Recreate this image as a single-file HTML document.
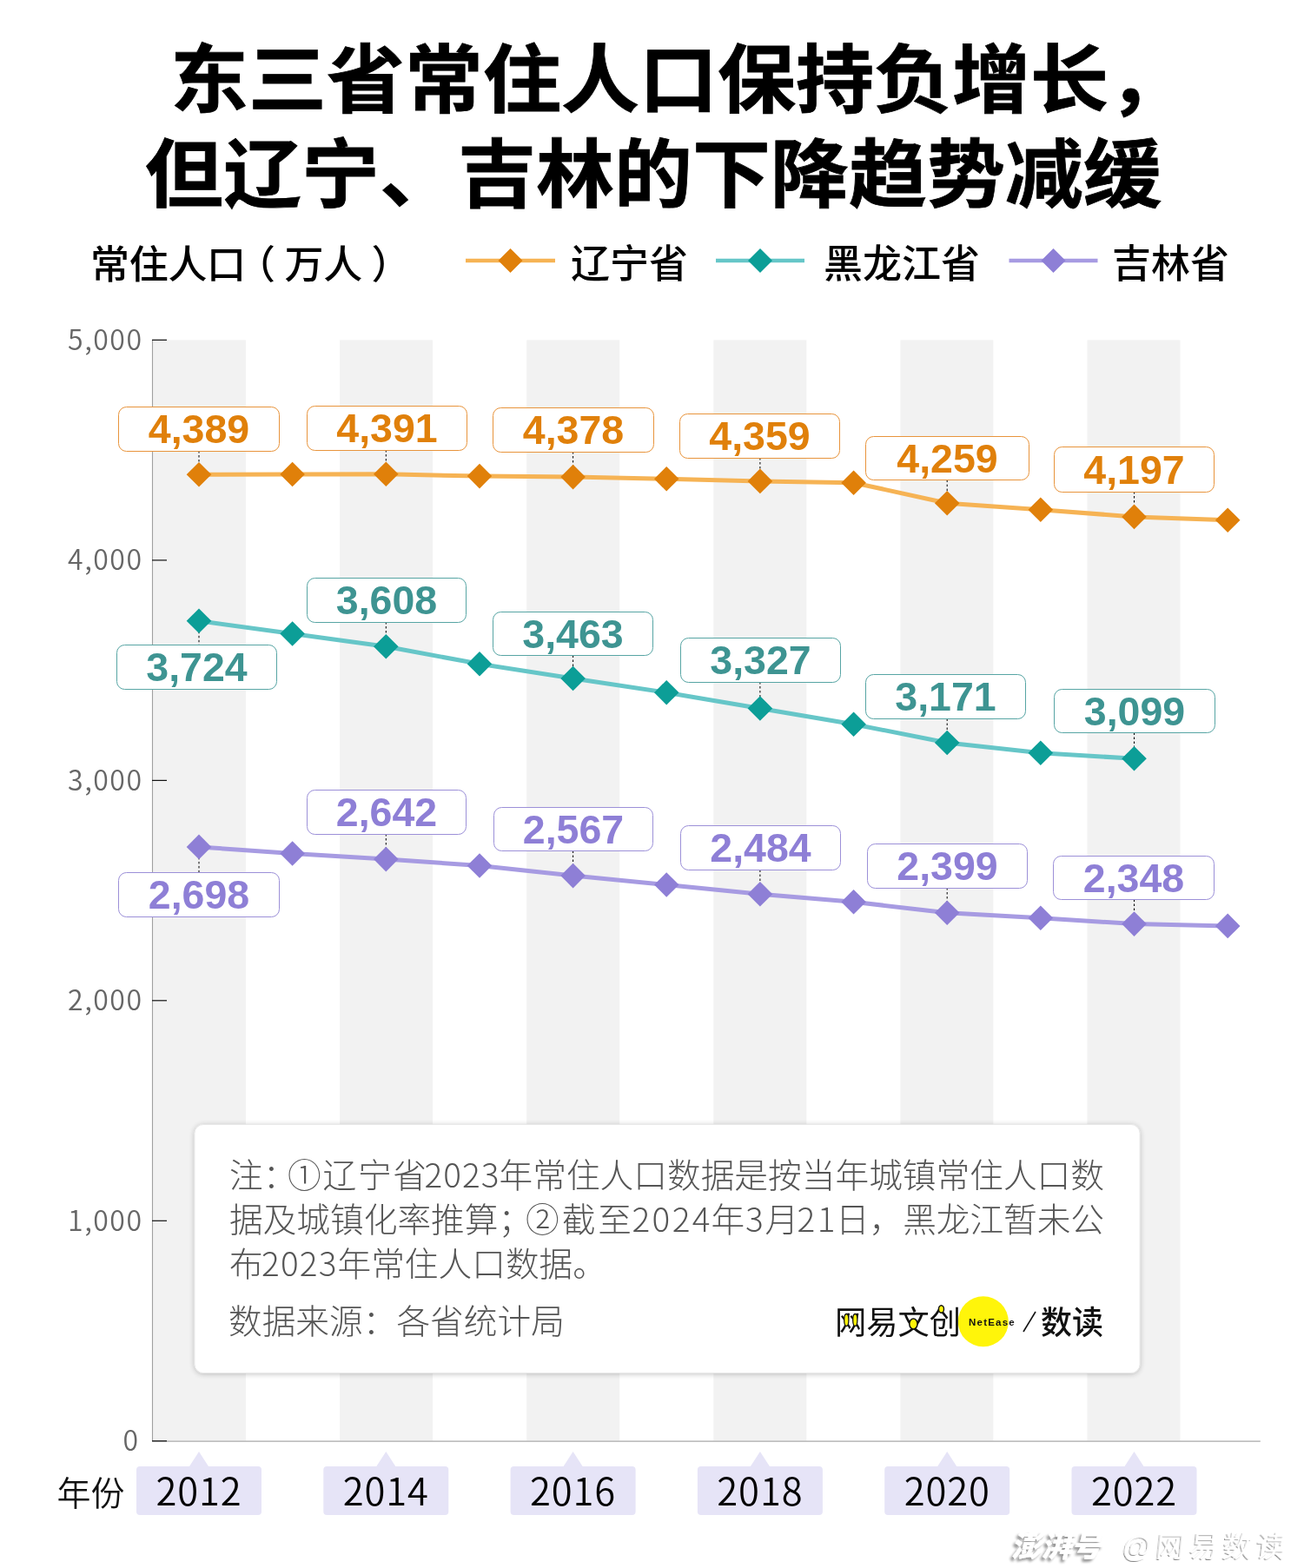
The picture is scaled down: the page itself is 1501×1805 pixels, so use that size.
<!DOCTYPE html>
<html lang="zh-CN"><head><meta charset="utf-8"><title>东三省常住人口保持负增长</title>
<style>
html,body{margin:0;padding:0;background:#fff;}
body{width:1501px;height:1805px;overflow:hidden;position:relative;font-family:"Liberation Sans","Noto Sans CJK SC",sans-serif;}
svg{position:absolute;left:0;top:0;display:block;}
text{font-family:"Liberation Sans","Noto Sans CJK SC",sans-serif;}
.title{font-weight:700;stroke:#000;stroke-width:0.8px;font-size:90px;fill:#000;font-family:"Liberation Sans","Noto Sans CJK SC",sans-serif;}
.lg{font-size:45px;fill:#000;font-weight:500;font-family:"Liberation Sans","Noto Sans CJK SC",sans-serif;}
.yl{font-size:32px;fill:#666;font-weight:350;letter-spacing:1.5px;font-family:"Noto Sans CJK SC","Liberation Sans",sans-serif;}
.num{font-size:46.5px;font-weight:700;letter-spacing:0px;}
.yr{font-size:43.5px;font-weight:350;letter-spacing:0.9px;fill:#000;font-family:"Noto Sans CJK SC","Liberation Sans",sans-serif;}
.note{font-size:38.7px;fill:#555;font-weight:300;font-family:"Noto Sans CJK SC","Liberation Sans",sans-serif;}
</style></head><body>
<svg width="1501" height="1805" viewBox="0 0 1501 1805">
<defs>
<filter id="sh" x="-5%" y="-10%" width="110%" height="120%"><feGaussianBlur in="SourceAlpha" stdDeviation="3"/><feOffset dx="0" dy="0.5"/><feComponentTransfer><feFuncA type="linear" slope="0.24"/></feComponentTransfer><feMerge><feMergeNode/><feMergeNode in="SourceGraphic"/></feMerge></filter>
<filter id="wm" x="-10%" y="-30%" width="120%" height="160%"><feGaussianBlur in="SourceAlpha" stdDeviation="1.8"/><feOffset dx="-3" dy="2.5"/><feComponentTransfer><feFuncA type="linear" slope="0.42"/></feComponentTransfer><feMerge><feMergeNode/><feMergeNode in="SourceGraphic"/></feMerge></filter>
<filter id="wm2" x="-10%" y="-30%" width="120%" height="160%"><feGaussianBlur in="SourceAlpha" stdDeviation="0.6"/><feOffset dx="-1" dy="1"/><feComponentTransfer><feFuncA type="linear" slope="0.5"/></feComponentTransfer><feMerge><feMergeNode/><feMergeNode in="SourceGraphic"/></feMerge></filter>
</defs>
<rect width="1501" height="1805" fill="#fff"/>

<text class="title" transform="translate(196,122.8) scale(1,0.955)" x="0" y="0" textLength="1170" lengthAdjust="spacing">东三省常住人口保持负增长，</text>
<text class="title" transform="translate(167,231.5) scale(1,0.955)" x="0" y="0" textLength="1170" lengthAdjust="spacing">但辽宁、吉林的下降趋势减缓</text>
<text class="lg" x="104 148.7 193.4 238.1 272 327.5 372.2 427.5" y="321">常住人口（万人）</text>
<line x1="536" y1="300" x2="639" y2="300" stroke="#F6B354" stroke-width="4.6"/>
<path d="M573.5 300 L587.5 286 L601.5 300 L587.5 314Z" fill="#E0800A"/>
<text class="lg" x="657" y="320">辽宁省</text>
<line x1="824" y1="300" x2="926" y2="300" stroke="#66C6C8" stroke-width="4.6"/>
<path d="M861.0 300 L875.0 286 L889.0 300 L875.0 314Z" fill="#0C9E97"/>
<text class="lg" x="948" y="320">黑龙江省</text>
<line x1="1161.5" y1="300" x2="1263.5" y2="300" stroke="#A79BE2" stroke-width="4.6"/>
<path d="M1198.5 300 L1212.5 286 L1226.5 300 L1212.5 314Z" fill="#8E7FD6"/>
<text class="lg" x="1280" y="320">吉林省</text>
<rect x="176.0" y="391.5" width="107" height="1267" fill="#F2F2F2"/>
<rect x="391.1" y="391.5" width="107" height="1267" fill="#F2F2F2"/>
<rect x="606.2" y="391.5" width="107" height="1267" fill="#F2F2F2"/>
<rect x="821.3" y="391.5" width="107" height="1267" fill="#F2F2F2"/>
<rect x="1036.4" y="391.5" width="107" height="1267" fill="#F2F2F2"/>
<rect x="1251.5" y="391.5" width="107" height="1267" fill="#F2F2F2"/>
<line x1="175.5" y1="391" x2="175.5" y2="1659" stroke="#a0a0a0" stroke-width="1.1"/>
<line x1="175" y1="1659.1" x2="1450.8" y2="1659.1" stroke="#a8a8a8" stroke-width="1.2"/>
<line x1="175" y1="1658.8" x2="192" y2="1658.8" stroke="#111" stroke-width="1.2"/>
<text class="yl" x="160.5" y="1670.0" text-anchor="end">0</text>
<line x1="175" y1="1405.3" x2="192" y2="1405.3" stroke="#111" stroke-width="1.2"/>
<text class="yl" x="164.5" y="1416.5" text-anchor="end">1,000</text>
<line x1="175" y1="1151.8" x2="192" y2="1151.8" stroke="#111" stroke-width="1.2"/>
<text class="yl" x="164.5" y="1163.0" text-anchor="end">2,000</text>
<line x1="175" y1="898.4" x2="192" y2="898.4" stroke="#111" stroke-width="1.2"/>
<text class="yl" x="164.5" y="909.6" text-anchor="end">3,000</text>
<line x1="175" y1="644.9" x2="192" y2="644.9" stroke="#111" stroke-width="1.2"/>
<text class="yl" x="164.5" y="656.1" text-anchor="end">4,000</text>
<line x1="175" y1="391.4" x2="192" y2="391.4" stroke="#111" stroke-width="1.2"/>
<text class="yl" x="164.5" y="402.6" text-anchor="end">5,000</text>
<rect x="224" y="1294.5" width="1088" height="286" rx="10" fill="#fff" stroke="#e6e6e6" stroke-width="0.8" filter="url(#sh)"/>
<polyline points="229.0,546.3 336.6,546.0 444.3,545.8 552.0,548.1 659.6,549.1 767.2,551.3 874.9,553.9 982.6,555.7 1090.2,579.2 1197.8,586.8 1305.5,594.9 1413.2,598.7" fill="none" stroke="#F6B354" stroke-width="5" stroke-linejoin="round"/>
<polyline points="229.0,714.8 336.6,729.5 444.3,744.2 552.0,764.3 659.6,781.0 767.2,797.2 874.9,815.5 982.6,833.7 1090.2,855.0 1197.8,866.7 1305.5,873.3" fill="none" stroke="#66C6C8" stroke-width="5" stroke-linejoin="round"/>
<polyline points="229.0,974.9 336.6,982.5 444.3,989.1 552.0,996.5 659.6,1008.1 767.2,1018.5 874.9,1029.2 982.6,1038.3 1090.2,1050.7 1197.8,1056.8 1305.5,1063.6 1413.2,1065.9" fill="none" stroke="#A79BE2" stroke-width="5" stroke-linejoin="round"/>
<line x1="229.0" y1="519" x2="229.0" y2="534.3" stroke="#000" stroke-width="1" stroke-dasharray="2.5 2.5"/>
<line x1="444.3" y1="518" x2="444.3" y2="533.8" stroke="#000" stroke-width="1" stroke-dasharray="2.5 2.5"/>
<line x1="659.6" y1="520" x2="659.6" y2="537.1" stroke="#000" stroke-width="1" stroke-dasharray="2.5 2.5"/>
<line x1="874.9" y1="527" x2="874.9" y2="541.9" stroke="#000" stroke-width="1" stroke-dasharray="2.5 2.5"/>
<line x1="1090.2" y1="552.6" x2="1090.2" y2="567.2" stroke="#000" stroke-width="1" stroke-dasharray="2.5 2.5"/>
<line x1="1305.5" y1="566" x2="1305.5" y2="582.9" stroke="#000" stroke-width="1" stroke-dasharray="2.5 2.5"/>
<line x1="229.0" y1="726.8" x2="229.0" y2="742.5" stroke="#000" stroke-width="1" stroke-dasharray="2.5 2.5"/>
<line x1="444.3" y1="716" x2="444.3" y2="732.2" stroke="#000" stroke-width="1" stroke-dasharray="2.5 2.5"/>
<line x1="659.6" y1="754.5" x2="659.6" y2="769.0" stroke="#000" stroke-width="1" stroke-dasharray="2.5 2.5"/>
<line x1="874.9" y1="785" x2="874.9" y2="803.5" stroke="#000" stroke-width="1" stroke-dasharray="2.5 2.5"/>
<line x1="1090.2" y1="827.5" x2="1090.2" y2="843.0" stroke="#000" stroke-width="1" stroke-dasharray="2.5 2.5"/>
<line x1="1305.5" y1="843.5" x2="1305.5" y2="861.3" stroke="#000" stroke-width="1" stroke-dasharray="2.5 2.5"/>
<line x1="229.0" y1="986.9" x2="229.0" y2="1004.5" stroke="#000" stroke-width="1" stroke-dasharray="2.5 2.5"/>
<line x1="444.3" y1="960" x2="444.3" y2="977.1" stroke="#000" stroke-width="1" stroke-dasharray="2.5 2.5"/>
<line x1="659.6" y1="979.5" x2="659.6" y2="996.1" stroke="#000" stroke-width="1" stroke-dasharray="2.5 2.5"/>
<line x1="874.9" y1="1001.5" x2="874.9" y2="1017.2" stroke="#000" stroke-width="1" stroke-dasharray="2.5 2.5"/>
<line x1="1090.2" y1="1022" x2="1090.2" y2="1038.7" stroke="#000" stroke-width="1" stroke-dasharray="2.5 2.5"/>
<line x1="1305.5" y1="1035.5" x2="1305.5" y2="1051.6" stroke="#000" stroke-width="1" stroke-dasharray="2.5 2.5"/>
<path d="M214.7 546.3 L229.0 532.0 L243.3 546.3 L229.0 560.6Z" fill="#E0800A"/>
<path d="M322.3 546.0 L336.6 531.7 L350.9 546.0 L336.6 560.3Z" fill="#E0800A"/>
<path d="M430.0 545.8 L444.3 531.5 L458.6 545.8 L444.3 560.1Z" fill="#E0800A"/>
<path d="M537.7 548.1 L552.0 533.8 L566.2 548.1 L552.0 562.4Z" fill="#E0800A"/>
<path d="M645.3 549.1 L659.6 534.8 L673.9 549.1 L659.6 563.4Z" fill="#E0800A"/>
<path d="M753.0 551.3 L767.2 537.0 L781.5 551.3 L767.2 565.6Z" fill="#E0800A"/>
<path d="M860.6 553.9 L874.9 539.6 L889.2 553.9 L874.9 568.2Z" fill="#E0800A"/>
<path d="M968.3 555.7 L982.6 541.4 L996.9 555.7 L982.6 570.0Z" fill="#E0800A"/>
<path d="M1075.9 579.2 L1090.2 564.9 L1104.5 579.2 L1090.2 593.5Z" fill="#E0800A"/>
<path d="M1183.5 586.8 L1197.8 572.5 L1212.1 586.8 L1197.8 601.1Z" fill="#E0800A"/>
<path d="M1291.2 594.9 L1305.5 580.6 L1319.8 594.9 L1305.5 609.2Z" fill="#E0800A"/>
<path d="M1398.9 598.7 L1413.2 584.4 L1427.5 598.7 L1413.2 613.0Z" fill="#E0800A"/>
<path d="M214.7 714.8 L229.0 700.5 L243.3 714.8 L229.0 729.1Z" fill="#0C9E97"/>
<path d="M322.3 729.5 L336.6 715.2 L350.9 729.5 L336.6 743.8Z" fill="#0C9E97"/>
<path d="M430.0 744.2 L444.3 729.9 L458.6 744.2 L444.3 758.5Z" fill="#0C9E97"/>
<path d="M537.7 764.3 L552.0 750.0 L566.2 764.3 L552.0 778.6Z" fill="#0C9E97"/>
<path d="M645.3 781.0 L659.6 766.7 L673.9 781.0 L659.6 795.3Z" fill="#0C9E97"/>
<path d="M753.0 797.2 L767.2 782.9 L781.5 797.2 L767.2 811.5Z" fill="#0C9E97"/>
<path d="M860.6 815.5 L874.9 801.2 L889.2 815.5 L874.9 829.8Z" fill="#0C9E97"/>
<path d="M968.3 833.7 L982.6 819.4 L996.9 833.7 L982.6 848.0Z" fill="#0C9E97"/>
<path d="M1075.9 855.0 L1090.2 840.7 L1104.5 855.0 L1090.2 869.3Z" fill="#0C9E97"/>
<path d="M1183.5 866.7 L1197.8 852.4 L1212.1 866.7 L1197.8 881.0Z" fill="#0C9E97"/>
<path d="M1291.2 873.3 L1305.5 859.0 L1319.8 873.3 L1305.5 887.6Z" fill="#0C9E97"/>
<path d="M214.7 974.9 L229.0 960.6 L243.3 974.9 L229.0 989.2Z" fill="#8E7FD6"/>
<path d="M322.3 982.5 L336.6 968.2 L350.9 982.5 L336.6 996.8Z" fill="#8E7FD6"/>
<path d="M430.0 989.1 L444.3 974.8 L458.6 989.1 L444.3 1003.4Z" fill="#8E7FD6"/>
<path d="M537.7 996.5 L552.0 982.2 L566.2 996.5 L552.0 1010.8Z" fill="#8E7FD6"/>
<path d="M645.3 1008.1 L659.6 993.8 L673.9 1008.1 L659.6 1022.4Z" fill="#8E7FD6"/>
<path d="M753.0 1018.5 L767.2 1004.2 L781.5 1018.5 L767.2 1032.8Z" fill="#8E7FD6"/>
<path d="M860.6 1029.2 L874.9 1014.9 L889.2 1029.2 L874.9 1043.5Z" fill="#8E7FD6"/>
<path d="M968.3 1038.3 L982.6 1024.0 L996.9 1038.3 L982.6 1052.6Z" fill="#8E7FD6"/>
<path d="M1075.9 1050.7 L1090.2 1036.4 L1104.5 1050.7 L1090.2 1065.0Z" fill="#8E7FD6"/>
<path d="M1183.5 1056.8 L1197.8 1042.5 L1212.1 1056.8 L1197.8 1071.1Z" fill="#8E7FD6"/>
<path d="M1291.2 1063.6 L1305.5 1049.3 L1319.8 1063.6 L1305.5 1077.9Z" fill="#8E7FD6"/>
<path d="M1398.9 1065.9 L1413.2 1051.6 L1427.5 1065.9 L1413.2 1080.2Z" fill="#8E7FD6"/>
<rect x="136.5" y="468.5" width="185.0" height="51.0" rx="9" fill="#fff" stroke="#E8943C" stroke-width="1"/>
<text class="num" x="229.0" y="510.4" text-anchor="middle" fill="#E0800A">4,389</text>
<rect x="353.5" y="467.5" width="184.0" height="51.0" rx="9" fill="#fff" stroke="#E8943C" stroke-width="1"/>
<text class="num" x="445.5" y="509.4" text-anchor="middle" fill="#E0800A">4,391</text>
<rect x="567.5" y="469.5" width="185.0" height="51.0" rx="9" fill="#fff" stroke="#E8943C" stroke-width="1"/>
<text class="num" x="660.0" y="511.4" text-anchor="middle" fill="#E0800A">4,378</text>
<rect x="782.5" y="476.5" width="184.0" height="51.0" rx="9" fill="#fff" stroke="#E8943C" stroke-width="1"/>
<text class="num" x="874.5" y="518.4" text-anchor="middle" fill="#E0800A">4,359</text>
<rect x="996.5" y="502.5" width="188.0" height="50.0" rx="9" fill="#fff" stroke="#E8943C" stroke-width="1"/>
<text class="num" x="1090.5" y="543.9" text-anchor="middle" fill="#E0800A">4,259</text>
<rect x="1213.5" y="514.5" width="184.0" height="52.0" rx="9" fill="#fff" stroke="#E8943C" stroke-width="1"/>
<text class="num" x="1305.5" y="556.9" text-anchor="middle" fill="#E0800A">4,197</text>
<rect x="134.5" y="742.5" width="184.0" height="51.0" rx="9" fill="#fff" stroke="#57A5A4" stroke-width="1"/>
<text class="num" x="226.5" y="784.4" text-anchor="middle" fill="#3E9492">3,724</text>
<rect x="353.5" y="665.5" width="183.0" height="51.0" rx="9" fill="#fff" stroke="#57A5A4" stroke-width="1"/>
<text class="num" x="445.0" y="707.4" text-anchor="middle" fill="#3E9492">3,608</text>
<rect x="567.5" y="704.5" width="184.0" height="50.0" rx="9" fill="#fff" stroke="#57A5A4" stroke-width="1"/>
<text class="num" x="659.5" y="745.9" text-anchor="middle" fill="#3E9492">3,463</text>
<rect x="783.5" y="734.5" width="184.0" height="51.0" rx="9" fill="#fff" stroke="#57A5A4" stroke-width="1"/>
<text class="num" x="875.5" y="776.4" text-anchor="middle" fill="#3E9492">3,327</text>
<rect x="996.5" y="776.5" width="184.0" height="51.0" rx="9" fill="#fff" stroke="#57A5A4" stroke-width="1"/>
<text class="num" x="1088.5" y="818.4" text-anchor="middle" fill="#3E9492">3,171</text>
<rect x="1213.5" y="793.5" width="185.0" height="50.0" rx="9" fill="#fff" stroke="#57A5A4" stroke-width="1"/>
<text class="num" x="1306.0" y="834.9" text-anchor="middle" fill="#3E9492">3,099</text>
<rect x="136.5" y="1004.5" width="185.0" height="51.0" rx="9" fill="#fff" stroke="#9C90D8" stroke-width="1"/>
<text class="num" x="229.0" y="1046.4" text-anchor="middle" fill="#8E7FD6">2,698</text>
<rect x="353.5" y="909.5" width="183.0" height="51.0" rx="9" fill="#fff" stroke="#9C90D8" stroke-width="1"/>
<text class="num" x="445.0" y="951.4" text-anchor="middle" fill="#8E7FD6">2,642</text>
<rect x="568.5" y="929.5" width="183.0" height="50.0" rx="9" fill="#fff" stroke="#9C90D8" stroke-width="1"/>
<text class="num" x="660.0" y="970.9" text-anchor="middle" fill="#8E7FD6">2,567</text>
<rect x="783.5" y="950.5" width="184.0" height="51.0" rx="9" fill="#fff" stroke="#9C90D8" stroke-width="1"/>
<text class="num" x="875.5" y="992.4" text-anchor="middle" fill="#8E7FD6">2,484</text>
<rect x="998.5" y="971.5" width="184.0" height="51.0" rx="9" fill="#fff" stroke="#9C90D8" stroke-width="1"/>
<text class="num" x="1090.5" y="1013.4" text-anchor="middle" fill="#8E7FD6">2,399</text>
<rect x="1212.5" y="985.5" width="185.0" height="50.0" rx="9" fill="#fff" stroke="#9C90D8" stroke-width="1"/>
<text class="num" x="1305.0" y="1026.9" text-anchor="middle" fill="#8E7FD6">2,348</text>
<text x="65.5" y="1732.5" font-size="39" font-weight="350" fill="#111" style="font-family:'Liberation Sans','Noto Sans CJK SC',sans-serif">年份</text>
<path d="M157.0 1692 q0 -4 4 -4 h57 l11 -17 l11 17 h57 q4 0 4 4 v48 q0 4 -4 4 h-136 q-4 0 -4 -4Z" fill="#E6E4F7"/>
<text class="yr" x="229.0" y="1733" text-anchor="middle">2012</text>
<path d="M372.3 1692 q0 -4 4 -4 h57 l11 -17 l11 17 h57 q4 0 4 4 v48 q0 4 -4 4 h-136 q-4 0 -4 -4Z" fill="#E6E4F7"/>
<text class="yr" x="444.3" y="1733" text-anchor="middle">2014</text>
<path d="M587.6 1692 q0 -4 4 -4 h57 l11 -17 l11 17 h57 q4 0 4 4 v48 q0 4 -4 4 h-136 q-4 0 -4 -4Z" fill="#E6E4F7"/>
<text class="yr" x="659.6" y="1733" text-anchor="middle">2016</text>
<path d="M802.9 1692 q0 -4 4 -4 h57 l11 -17 l11 17 h57 q4 0 4 4 v48 q0 4 -4 4 h-136 q-4 0 -4 -4Z" fill="#E6E4F7"/>
<text class="yr" x="874.9" y="1733" text-anchor="middle">2018</text>
<path d="M1018.2 1692 q0 -4 4 -4 h57 l11 -17 l11 17 h57 q4 0 4 4 v48 q0 4 -4 4 h-136 q-4 0 -4 -4Z" fill="#E6E4F7"/>
<text class="yr" x="1090.2" y="1733" text-anchor="middle">2020</text>
<path d="M1233.5 1692 q0 -4 4 -4 h57 l11 -17 l11 17 h57 q4 0 4 4 v48 q0 4 -4 4 h-136 q-4 0 -4 -4Z" fill="#E6E4F7"/>
<text class="yr" x="1305.5" y="1733" text-anchor="middle">2022</text>
<text class="note" x="264" y="1367">注：</text>
<text class="note" x="331" y="1367" textLength="160" lengthAdjust="spacing">①辽宁省</text>
<text class="note" x="488.5" y="1367" textLength="86" lengthAdjust="spacing">2023</text>
<text class="note" x="574.5" y="1367" textLength="696.5" lengthAdjust="spacing">年常住人口数据是按当年城镇常住人口数</text>
<text class="note" x="264" y="1418">据及城镇化率推算；</text>
<text class="note" x="605" y="1418" textLength="122" lengthAdjust="spacing">②截至</text>
<text class="note" x="727.5" y="1418" textLength="90" lengthAdjust="spacing">2024</text>
<text class="note" x="818.5" y="1418">年</text>
<text class="note" x="858" y="1418">3</text>
<text class="note" x="880.5" y="1418">月</text>
<text class="note" x="917.5" y="1418" textLength="44" lengthAdjust="spacing">21</text>
<text class="note" x="962" y="1418" textLength="309" lengthAdjust="spacing">日，黑龙江暂未公</text>
<text class="note" x="264" y="1468.5">布</text>
<text class="note" x="301" y="1468.5" textLength="86.5" lengthAdjust="spacing">2023</text>
<text class="note" x="388.5" y="1468.5">年常住人口数据。</text>
<text class="note" x="263" y="1535">数据来源：各省统计局</text>
<circle cx="1131.8" cy="1521.3" r="29" fill="#FFF50A"/>
<text x="961" y="1536" font-size="37" fill="#111" font-weight="400" style="font-family:'Liberation Sans','Noto Sans CJK SC',sans-serif" textLength="145" lengthAdjust="spacingAndGlyphs">网易文创</text>
<ellipse cx="974.3" cy="1519.5" rx="2.6" ry="7" fill="#FFF50A" stroke="#111" stroke-width="1.3"/>
<ellipse cx="984.3" cy="1519.5" rx="2.6" ry="7" fill="#FFF50A" stroke="#111" stroke-width="1.3"/>
<ellipse cx="1051.4" cy="1524" rx="4.6" ry="6" fill="#FFF50A" stroke="#111" stroke-width="1.5"/>
<ellipse cx="1083.5" cy="1507" rx="3" ry="4.2" fill="#FFF50A" stroke="#111" stroke-width="1.4"/>
<text x="1142" y="1525.5" font-size="11.5" font-weight="700" fill="#111" text-anchor="middle" letter-spacing="1.2">NetEase</text>
<line x1="1178" y1="1533" x2="1192" y2="1510" stroke="#111" stroke-width="1.6"/>
<text x="1198" y="1536" font-size="37" fill="#111" font-weight="500" style="font-family:'Liberation Sans','Noto Sans CJK SC',sans-serif" textLength="72" lengthAdjust="spacingAndGlyphs">数读</text>
<g filter="url(#wm)"><text x="1164" y="1792" font-size="34" font-weight="900" font-style="italic" fill="#fff" style="font-family:'Liberation Sans','Noto Sans CJK SC',sans-serif" textLength="104" lengthAdjust="spacingAndGlyphs">澎湃号</text></g>
<g filter="url(#wm2)" transform="translate(1291,1792) skewX(-6)"><text x="0" y="0" font-size="33" font-weight="400" fill="#fff" style="font-family:'Liberation Sans','Noto Sans CJK SC',sans-serif" textLength="187" lengthAdjust="spacing">@网易数读</text></g>
</svg></body></html>
